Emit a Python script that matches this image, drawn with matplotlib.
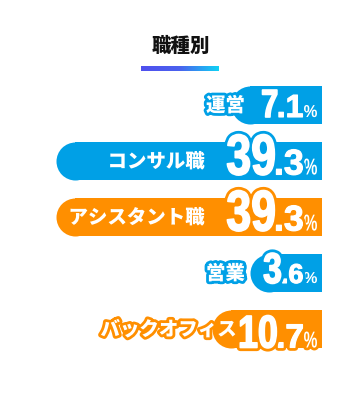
import numpy as np
import matplotlib
matplotlib.use('Agg')
import matplotlib.pyplot as plt
from matplotlib.textpath import TextPath
from matplotlib.font_manager import FontProperties
from matplotlib.patches import PathPatch
from matplotlib.transforms import Affine2D
from matplotlib.colors import LinearSegmentedColormap
import matplotlib.patheffects as pe

plt.rcParams['font.family'] = ['Noto Sans CJK JP', 'DejaVu Sans']

# ---------------- data ----------------
title = '職種別'
categories = ['運営', 'コンサル職', 'アシスタント職', '営業', 'バックオフィス']
values = [7.1, 39.3, 39.3, 3.6, 10.7]

# ---------------- style ----------------
BLUE = '#00a0e6'
ORANGE = '#ff8f00'
bar_colors = [BLUE, BLUE, ORANGE, BLUE, ORANGE]
big_h = [27, 40, 40, 30, 32]      # px height of integer part
dec_h = [22, 25, 25, 19, 23]      # px height of decimal part
pct_h = [12, 16, 16, 11, 16]      # px height of % sign
base_off = [12, 13.5, 13.5, 10, 18.5]  # baseline below bar centre (px)
label_off = [77, 117, 117, 77, 85]     # label right edge from bar end (px)

W, H = 360, 400
fig = plt.figure(figsize=(W / 100, H / 100), dpi=100)
fig.patch.set_facecolor('white')

PX_PER_UNIT = 5.46
PAD = 9.5
RIGHT_PX = 322
TOP_PX, BOT_PX = 77, 357
n = len(values)
row_px = (BOT_PX - TOP_PX) / n
ax = fig.add_axes([0, 1 - BOT_PX / H, RIGHT_PX / W, (BOT_PX - TOP_PX) / H])
ax.set_xlim(RIGHT_PX / PX_PER_UNIT, 0)
ax.set_ylim(n - 0.5, -0.5)
ax.axis('off')

bar_px = 38
bar_h = bar_px / row_px
r = (bar_px / 2) / PX_PER_UNIT
lengths = [v + PAD for v in values]
ypos = np.arange(n)
ax.barh(ypos, [L - r for L in lengths], left=0, height=bar_h, color=bar_colors, linewidth=0)
for i, L in enumerate(lengths):
    ax.plot([L - r], [i], 'o', ms=bar_px * 72 / 100, color=bar_colors[i], mec='none')

ov = fig.add_axes([0, 0, 1, 1])
ov.axis('off')

# title + gradient underline
ov.text(181, 46, title, ha='center', va='center', fontsize=14, fontweight='black', color='#111111')
cmap = LinearSegmentedColormap.from_list('g', ['#5050ee', '#4a62ee', '#10d2f5'])
ov.imshow(np.linspace(0, 1, 200)[None, :], extent=(141, 219, 71, 66), aspect='auto', cmap=cmap,
          interpolation='bilinear')
ov.set_xlim(0, W)
ov.set_ylim(H, 0)

digit_fp = FontProperties(family='Liberation Sans', weight='bold')


def draw_part(s, x_right, baseline, h, stroke, sx=None, width=None, bold=0.8):
    tp = TextPath((0, 0), s, size=100, prop=digit_fp)
    ext = tp.get_extents()
    sy = h / ext.y1
    sxx = width / ext.width if width is not None else sy * sx
    tr = Affine2D().translate(-ext.x1, 0).scale(sxx, -sy).translate(x_right, baseline)
    path = tr.transform_path(tp)
    patch = PathPatch(path, facecolor='white', edgecolor='none', lw=0,
                      transform=ov.transData, zorder=5)
    effects = [pe.Stroke(linewidth=4 + bold, foreground=stroke, joinstyle='round')]
    if bold > 0:
        effects.append(pe.Stroke(linewidth=bold, foreground='white', joinstyle='round'))
    effects.append(pe.Normal())
    patch.set_path_effects(effects)
    ov.add_patch(patch)
    return x_right - ext.width * sxx


inv = ov.transData.inverted()
for i, (cat, v) in enumerate(zip(categories, values)):
    rx, cy = inv.transform(ax.transData.transform((0, i)))
    c = bar_colors[i]
    s = f'{v:.1f}'
    big, d = s.split('.')
    base = cy + base_off[i]
    left = draw_part('%', rx - 5, base, pct_h[i], c, width=13, bold=0)
    left = draw_part('.' + d, left - 1.5, base, dec_h[i], c, sx=1.0)
    left = draw_part(big, left - 2, base, big_h[i], c, sx=0.78, bold=1.2)
    ov.text(rx - label_off[i], cy + 1, cat, ha='right', va='center', fontsize=14,
            fontweight='black', color='white', zorder=6,
            path_effects=[pe.withStroke(linewidth=4, foreground=c)])

fig.savefig('out.png', dpi=100, facecolor='white')
